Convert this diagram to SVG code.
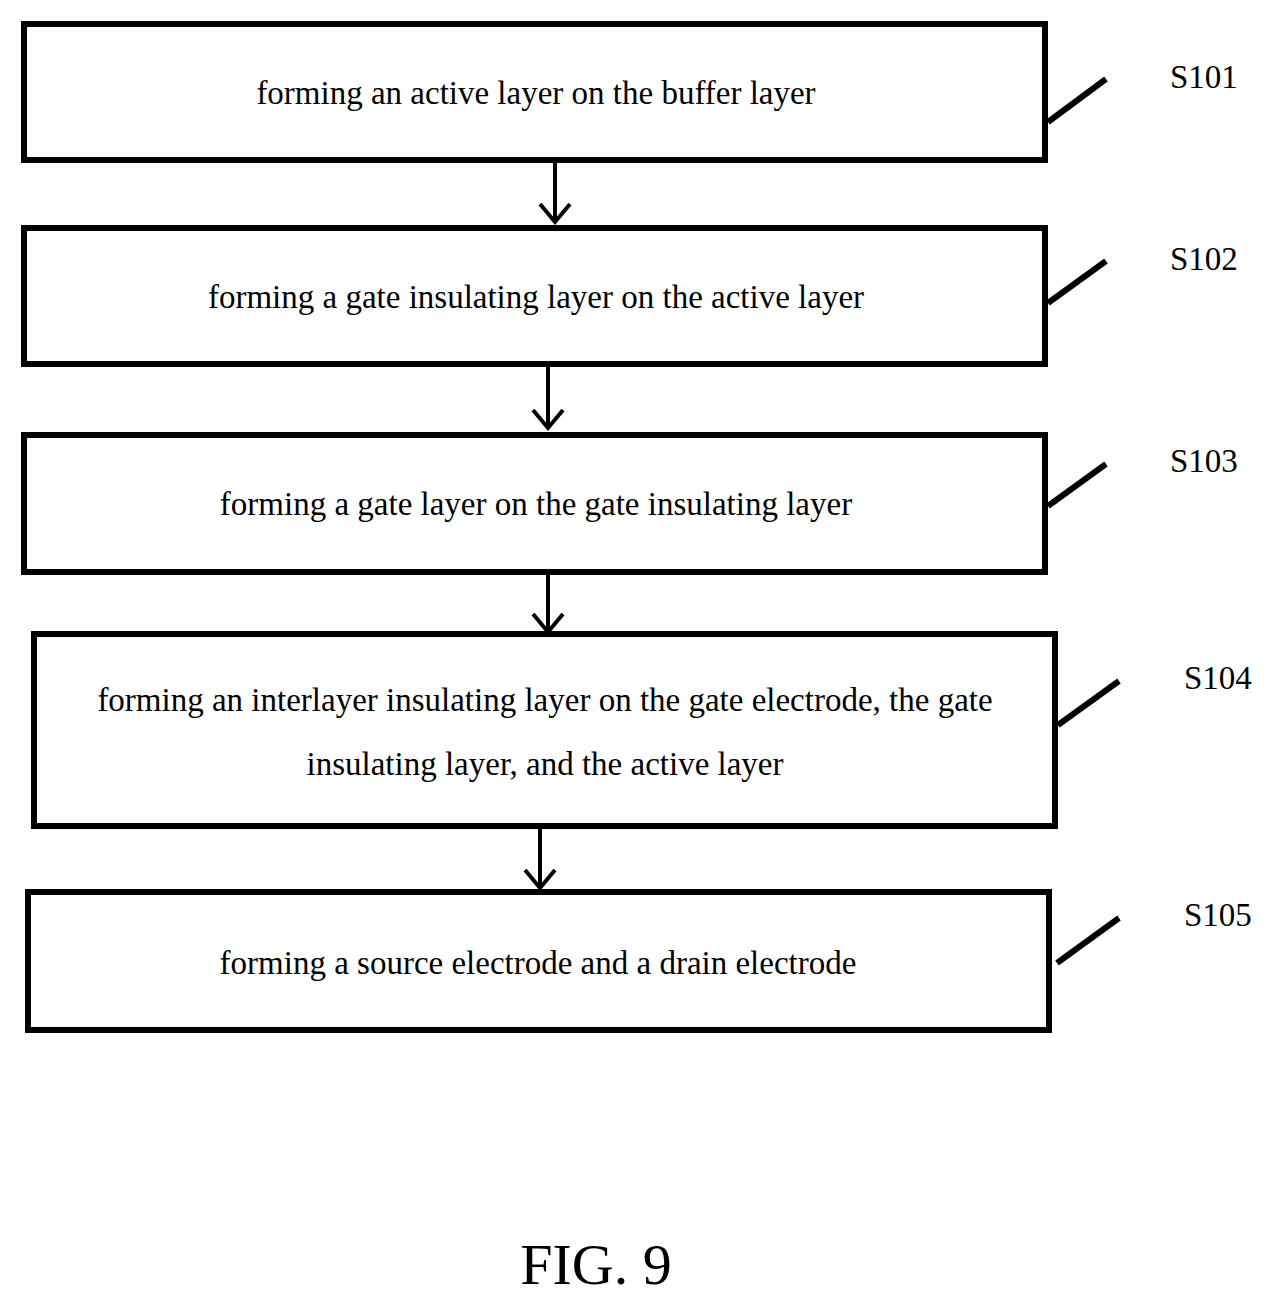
<svg xmlns="http://www.w3.org/2000/svg" width="1271" height="1304" viewBox="0 0 1271 1304">
<style>
.b{fill:#fff;stroke:#000;stroke-width:6}
.t{font-family:"Liberation Serif",serif;font-size:33px;text-anchor:middle;fill:#000}
.l{font-family:"Liberation Serif",serif;font-size:33px;fill:#000}
.c{stroke:#000;stroke-width:4;fill:none}
.k{stroke:#000;stroke-width:6}
</style>
<rect width="1271" height="1304" fill="#fff"/>
<g id="n1"><rect class="b" x="24" y="24" width="1021" height="136"/><text class="t" x="536" y="104">forming an active layer on the buffer layer</text><line class="k" x1="1048" y1="122" x2="1106" y2="79"/><text class="l" x="1170" y="88">S101</text></g>
<g id="n2"><rect class="b" x="24" y="228" width="1021" height="136"/><text class="t" x="536" y="308">forming a gate insulating layer on the active layer</text><line class="k" x1="1048" y1="303" x2="1106" y2="261"/><text class="l" x="1170" y="270">S102</text></g>
<g id="n3"><rect class="b" x="24" y="435" width="1021" height="137"/><text class="t" x="536" y="515">forming a gate layer on the gate insulating layer</text><line class="k" x1="1048" y1="506" x2="1106" y2="464"/><text class="l" x="1170" y="472">S103</text></g>
<g id="n4"><rect class="b" x="34" y="634" width="1021" height="192"/><text class="t" x="545" y="711">forming an interlayer insulating layer on the gate electrode, the gate</text><text class="t" x="545" y="775">insulating layer, and the active layer</text><line class="k" x1="1058" y1="725" x2="1119" y2="681"/><text class="l" x="1184" y="689">S104</text></g>
<g id="n5"><rect class="b" x="28" y="892" width="1021" height="138"/><text class="t" x="538" y="974">forming a source electrode and a drain electrode</text><line class="k" x1="1057" y1="963" x2="1119" y2="918"/><text class="l" x="1184" y="926">S105</text></g>
<g id="connectors">
<path class="c" d="M555 162V222M540 204L555 222L570 204"/>
<path class="c" d="M548 366V428M533 410L548 428L563 410"/>
<path class="c" d="M548 574V632M533 614L548 632L563 614"/>
<path class="c" d="M540 828V888M525 870L540 888L555 870"/>
</g>
<text class="t" x="596" y="1284" style="font-size:58px">FIG. 9</text>
</svg>
